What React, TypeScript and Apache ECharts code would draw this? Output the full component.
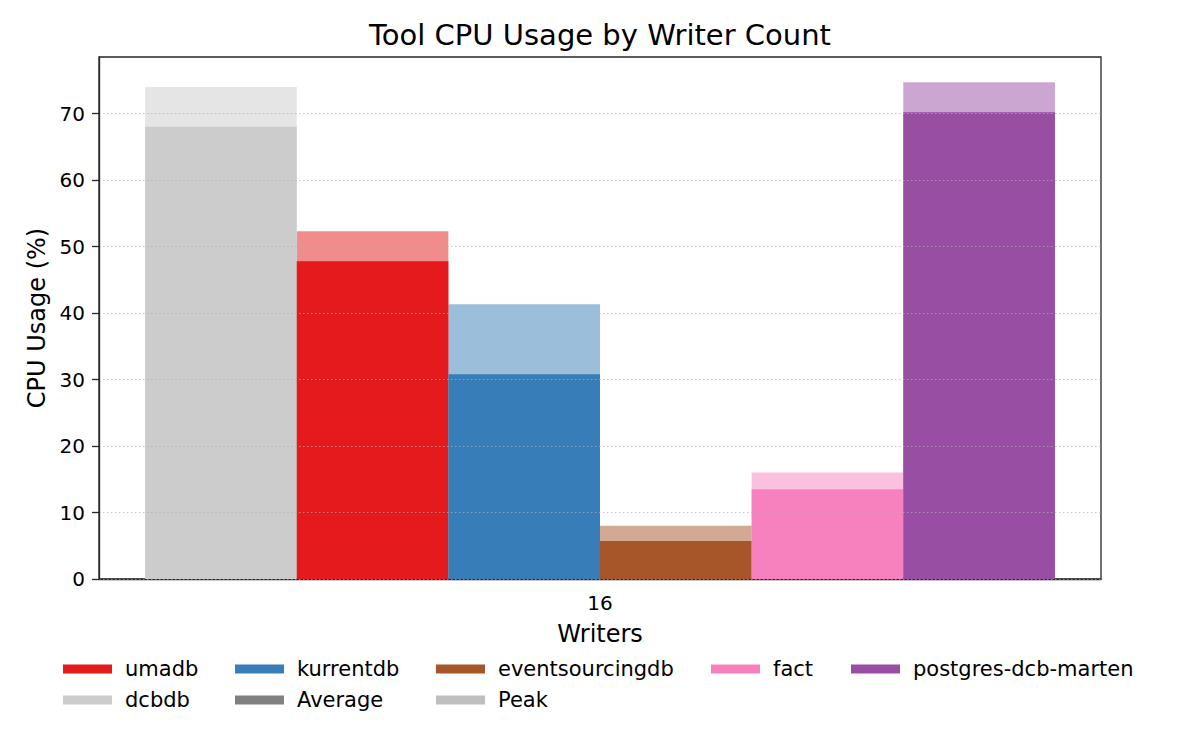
import React, { useEffect, useRef } from "react";
import * as echarts from "echarts";

const categories = ["16"];
const tools = ["dcbdb", "umadb", "kurrentdb", "eventsourcingdb", "fact", "postgres-dcb-marten"];
const avgCpu = [68.0, 47.8, 30.8, 5.7, 13.5, 70.2];
const peakCpu = [74.0, 52.3, 41.3, 8.0, 16.0, 74.7];
const toolColors = ["#cccccc", "#e41a1c", "#377eb8", "#a65628", "#f781bf", "#984ea3"];
const yTicks = [0, 10, 20, 30, 40, 50, 60, 70];

// legend layout: columns of [label, color]
const legendColumns: [string, string][][] = [
  [["umadb", "#e41a1c"], ["dcbdb", "#cccccc"]],
  [["kurrentdb", "#377eb8"], ["Average", "#808080"]],
  [["eventsourcingdb", "#a65628"], ["Peak", "#bfbfbf"]],
  [["fact", "#f781bf"]],
  [["postgres-dcb-marten", "#984ea3"]],
];
const legendColX = [63, 235, 436, 711, 851];

const FONT = "DejaVu Sans";

export default function App() {
  const ref = useRef<HTMLDivElement>(null);
  useEffect(() => {
    document.body.style.margin = "0";
    if (!ref.current) return;
    const chart = echarts.init(ref.current, null, { renderer: "svg" });
    const series: any[] = [];
    tools.forEach((t, i) => {
      series.push({
        type: "bar",
        name: t + " (Peak)",
        xAxisIndex: 1,
        data: [peakCpu[i]],
        itemStyle: { color: toolColors[i], opacity: 0.5 },
        barGap: "0%",
        barCategoryGap: "9.2%",
        z: 2,
      });
    });
    tools.forEach((t, i) => {
      series.push({
        type: "bar",
        name: t,
        xAxisIndex: 0,
        data: [avgCpu[i]],
        itemStyle: { color: toolColors[i] },
        barGap: "0%",
        barCategoryGap: "9.2%",
        z: 3,
      });
    });

    const graphics: any[] = [];
    legendColumns.forEach((col, ci) => {
      col.forEach(([label, color], ri) => {
        const y = 669 + ri * 31;
        graphics.push({
          type: "rect",
          shape: { x: legendColX[ci], y: y - 4.5, width: 49, height: 9 },
          style: { fill: color },
        });
        graphics.push({
          type: "text",
          x: legendColX[ci] + 62,
          y: y,
          style: {
            text: label,
            fontFamily: FONT,
            fontSize: 21,
            fill: "#000",
            verticalAlign: "middle",
            align: "left",
          },
        });
      });
    });

    chart.setOption({
      animation: false,
      backgroundColor: "#fff",
      title: {
        text: "Tool CPU Usage by Writer Count",
        left: "center",
        top: 15,
        textStyle: { fontFamily: FONT, fontSize: 29, fontWeight: "normal", color: "#000" },
      },
      grid: {
        left: 99,
        right: 99,
        top: 57,
        bottom: 171,
        show: true,
        borderColor: "#262626",
        borderWidth: 1.3,
        backgroundColor: "transparent",
      },
      xAxis: [
        {
          type: "category",
          data: categories,
          name: "Writers",
          nameLocation: "middle",
          nameGap: 43,
          nameTextStyle: { fontFamily: FONT, fontSize: 24, color: "#000" },
          axisLine: { lineStyle: { color: "#262626", width: 1.3 } },
          axisTick: { alignWithLabel: true, length: 6, lineStyle: { color: "#262626", width: 1.3 } },
          axisLabel: { fontFamily: FONT, fontSize: 20, color: "#000", margin: 14 },
          splitLine: { show: false },
        },
        {
          type: "category",
          data: categories,
          show: false,
        },
      ],
      yAxis: {
        type: "value",
        min: 0,
        max: 78.5,
        interval: 10,
        z: 5,
        name: "CPU Usage (%)",
        nameLocation: "middle",
        nameGap: 49,
        nameTextStyle: { fontFamily: FONT, fontSize: 24, color: "#000" },
        axisLine: { show: true, lineStyle: { color: "#262626", width: 1.3 } },
        axisTick: { show: true, length: 7, customValues: yTicks, lineStyle: { color: "#262626", width: 1.3 } },
        axisLabel: {
          fontFamily: FONT,
          fontSize: 20,
          color: "#000",
          margin: 14,
          customValues: yTicks,
        },
        splitLine: {
          show: true,
          lineStyle: { color: "rgba(176,176,176,0.7)", width: 1, type: [1.5, 2.5] },
        },
      },
      series,
      graphic: graphics,
    });
    return () => chart.dispose();
  }, []);
  return <div ref={ref} style={{ width: 1200, height: 750 }} />;
}
